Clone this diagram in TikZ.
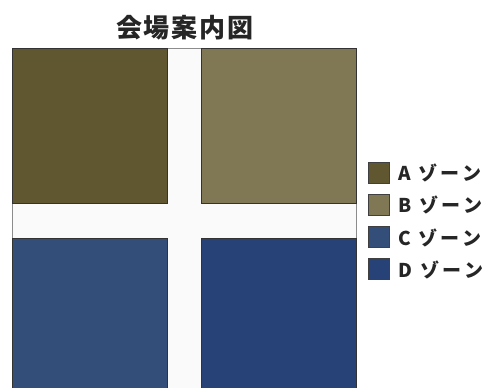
\documentclass[tikz,border=0pt]{standalone}
\usepackage{fontspec}
\newfontfamily\cjk{Noto Sans CJK JP}
\definecolor{zoneA}{RGB}{96,87,49}
\definecolor{zoneB}{RGB}{128,119,84}
\definecolor{zoneC}{RGB}{50,78,121}
\definecolor{zoneD}{RGB}{39,66,118}
\definecolor{pathbg}{RGB}{250,250,250}
\newcommand{\zonelabel}[1]{#1\hspace{8pt}ゾ\hspace{3pt}ー\hspace{3pt}ン}
\tikzset{
  zone/.style={draw=black!80, line width=0.9pt},
  legbox/.style={draw=black!75, line width=0.9pt, minimum width=21pt, minimum height=21pt, inner sep=0pt},
  legtext/.style={font=\cjk\bfseries\fontsize{19}{21}\selectfont, text=black!85, anchor=west, inner sep=0pt},
}
\begin{document}
\begin{tikzpicture}[x=1pt,y=-1pt]
\useasboundingbox (0,0) rectangle (493,388);
\clip (0,0) rectangle (493,388);
\fill[white] (0,0) rectangle (493,388);
\node[font=\cjk\bfseries\fontsize{26}{28}\selectfont, text=black!85] (title) at (185,28) {会\hspace{2pt}場\hspace{2pt}案\hspace{2pt}内\hspace{2pt}図};
\draw[fill=pathbg, draw=black!45, line width=0.8pt] (12,48) rectangle (356,400);
\node[zone, fill=zoneA, anchor=north west, minimum width=155pt, minimum height=155pt] (A) at (12,48) {};
\node[zone, fill=zoneB, anchor=north west, minimum width=155pt, minimum height=155pt] (B) at (201,48) {};
\node[zone, fill=zoneC, anchor=north west, minimum width=155pt, minimum height=155pt] (C) at (12,238) {};
\node[zone, fill=zoneD, anchor=north west, minimum width=155pt, minimum height=155pt] (D) at (201,238) {};
\node[legbox, fill=zoneA] (lA) at (379,172.5) {};
\node[legbox, fill=zoneB] (lB) at (379,204.5) {};
\node[legbox, fill=zoneC] (lC) at (379,237) {};
\node[legbox, fill=zoneD] (lD) at (379,269) {};
\node[legtext] (tA) at (398,173) {\zonelabel{A}};
\node[legtext] (tB) at (398,205) {\zonelabel{B}};
\node[legtext] (tC) at (398,237.5) {\zonelabel{C}};
\node[legtext] (tD) at (398,269.5) {\zonelabel{D}};
\end{tikzpicture}
\end{document}
